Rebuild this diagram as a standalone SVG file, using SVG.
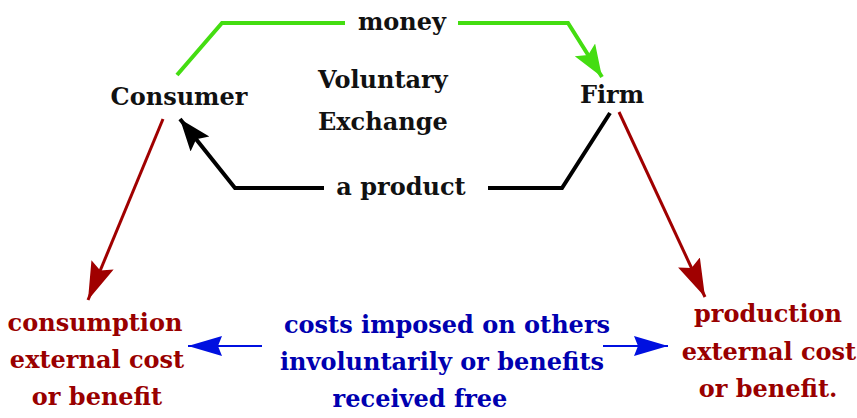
<svg xmlns="http://www.w3.org/2000/svg" width="857" height="418" viewBox="0 0 857 418">
<defs>
<style>
text{font-family:"DejaVu Serif","Liberation Serif",serif;font-weight:bold;font-size:24px;text-anchor:middle}
.blk{fill:#111}
.red{fill:#990000}
.blu{fill:#0000b0}
.ln{fill:none;stroke-linejoin:miter}
</style>
<marker id="ag" markerUnits="userSpaceOnUse" markerWidth="40" markerHeight="30" refX="32" refY="12" orient="auto"><path d="M0,0 L32,12 L0,24 L6,12 Z" fill="#44dd11"/></marker>
<marker id="ak" markerUnits="userSpaceOnUse" markerWidth="40" markerHeight="30" refX="32" refY="12" orient="auto"><path d="M0,0 L32,12 L0,24 L6,12 Z" fill="#000"/></marker>
<marker id="ar" markerUnits="userSpaceOnUse" markerWidth="42" markerHeight="30" refX="38" refY="12" orient="auto"><path d="M0,0 L38,12 L0,24 L6,12 Z" fill="#a00000"/></marker>
<marker id="ab" markerUnits="userSpaceOnUse" markerWidth="40" markerHeight="30" refX="34" refY="10" orient="auto"><path d="M0,0 L34,10 L0,20 L4,10 Z" fill="#0010e0"/></marker>
</defs>
<rect width="857" height="418" fill="#fff"/>
<g id="connectors">
<path class="ln" d="M177,75 L222,23 L345,23" stroke="#44dd11" stroke-width="4"/>
<path class="ln" d="M458,23 L568,23 L602,77" stroke="#44dd11" stroke-width="4" marker-end="url(#ag)"/>
<path class="ln" d="M610,113 L562,188 L488,188" stroke="#000" stroke-width="4"/>
<path class="ln" d="M324,188 L235,188 L180,119" stroke="#000" stroke-width="4" marker-end="url(#ak)"/>
<path class="ln" d="M163,119 L88,300" stroke="#a00000" stroke-width="3" marker-end="url(#ar)"/>
<path class="ln" d="M619,112 L705,297" stroke="#a00000" stroke-width="3" marker-end="url(#ar)"/>
<path class="ln" d="M262,346 L188,346" stroke="#0010e0" stroke-width="2" marker-end="url(#ab)"/>
<path class="ln" d="M603,346 L668,346" stroke="#0010e0" stroke-width="2" marker-end="url(#ab)"/>
</g>
<g id="label-money"><text class="blk" x="402" y="30">money</text></g>
<g id="label-product"><text class="blk" x="401" y="195">a product</text></g>
<g id="consumer"><text class="blk" x="179" y="105">Consumer</text></g>
<g id="firm"><text class="blk" x="612" y="103">Firm</text></g>
<g id="voluntary-exchange"><text class="blk" x="318" y="88" style="text-anchor:start">Voluntary</text><text class="blk" x="318" y="130" style="text-anchor:start">Exchange</text></g>
<g id="consumption-externality"><text class="red" x="95" y="331">consumption</text><text class="red" x="97" y="368">external cost</text><text class="red" x="97" y="405">or benefit</text></g>
<g id="costs-imposed"><text class="blu" x="447" y="333">costs imposed on others</text><text class="blu" x="442" y="370">involuntarily or benefits</text><text class="blu" x="420" y="407">received free</text></g>
<g id="production-externality"><text class="red" x="768" y="322">production</text><text class="red" x="769" y="360">external cost</text><text class="red" x="768" y="397">or benefit.</text></g>
</svg>
